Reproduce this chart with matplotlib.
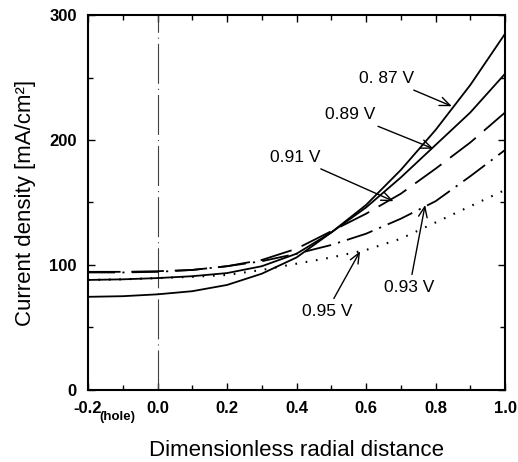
import numpy as np
import matplotlib.pyplot as plt
from matplotlib.ticker import MultipleLocator

plt.rcParams['font.family'] = ['Liberation Sans', 'DejaVu Sans']

# radial positions (hole edge at 0)
x = [-0.2, -0.1, 0.0, 0.1, 0.2, 0.3, 0.4, 0.5, 0.6, 0.7, 0.8, 0.9, 1.0]

# current density [mA/cm2] for each cell voltage
j_087 = [74.5, 75, 76.5, 79, 84, 93, 106, 126, 148, 176, 208, 244, 285]
j_089 = [88, 88.5, 89.5, 91, 93.5, 99, 109, 126, 146, 170, 196, 222, 253]
j_091 = [94.5, 94.5, 95, 96, 99, 104, 113, 127, 141, 157, 177, 198, 222]
j_093 = [94, 94, 94.5, 96, 99, 103, 109, 116, 125, 137, 151, 171, 192]
j_095 = [88, 88.5, 89.5, 90.5, 92, 96, 101, 106, 112, 121, 134, 147, 160]

labels = ["0. 87 V", "0.89 V", "0.91 V", "0.93 V", "0.95 V"]
# (text position, arrow tip) in data coords
text_xy = [(0.66, 249), (0.554, 220), (0.396, 186), (0.725, 82), (0.487, 63)]
tip_xy = [(0.847, 227), (0.794, 193), (0.679, 151), (0.77, 148), (0.583, 111)]

fig = plt.figure(figsize=(5.18, 4.62), dpi=100)
ax = fig.add_axes([0.170, 0.156, 0.805, 0.8115])

ax.axvline(0.0, color="0.25", lw=0.8, linestyle=(0, (36, 4.5, 1, 4.5)))

ax.plot(x, j_087, color="black", lw=1.3)
ax.plot(x, j_089, color="black", lw=1.3)
ax.plot(x, j_091, color="black", lw=1.3, linestyle=(0, (18, 6)))
ax.plot(x, j_093, color="black", lw=1.3, linestyle=(0, (15, 4, 1.2, 4)))
ax.plot(x, j_095, color="black", lw=1.5, linestyle=(0, (0.8, 4.2)))

for lab, txy, tip in zip(labels, text_xy, tip_xy):
    ax.annotate(lab, xy=tip, xytext=txy, fontsize=12.5, ha="center", va="center",
                arrowprops=dict(arrowstyle="->,head_length=0.6,head_width=0.25",
                                color="black", lw=1.0, shrinkA=2, shrinkB=0))

ax.set_xlim(-0.2, 1.0)
ax.set_ylim(0, 300)
ax.xaxis.set_major_locator(MultipleLocator(0.2))
ax.xaxis.set_minor_locator(MultipleLocator(0.1))
ax.yaxis.set_major_locator(MultipleLocator(100))
ax.yaxis.set_minor_locator(MultipleLocator(50))
ax.tick_params(which="both", direction="in", top=True, right=True, width=1.0)
ax.tick_params(which="major", length=5, labelsize=12, pad=8)
ax.tick_params(which="minor", length=3.5)
for lbl in ax.get_yticklabels():
    lbl.set_fontweight("bold")
ax.set_xticks([-0.2, 0.0, 0.2, 0.4, 0.6, 0.8, 1.0])
ax.set_xticklabels(["-0.2", "0.0", "0.2", "0.4", "0.6", "0.8", "1.0"], fontweight="bold")
for s in ax.spines.values():
    s.set_linewidth(1.5)

ax.text(-0.115, -0.055, "(hole)", transform=ax.get_xaxis_transform(),
        ha="center", va="top", fontsize=9.5, fontweight="bold")

ax.set_xlabel("Dimensionless radial distance", fontsize=16, labelpad=17)
ax.set_ylabel("Current density [mA/cm²]", fontsize=16, labelpad=10)

fig.savefig("out.png", dpi=100)
